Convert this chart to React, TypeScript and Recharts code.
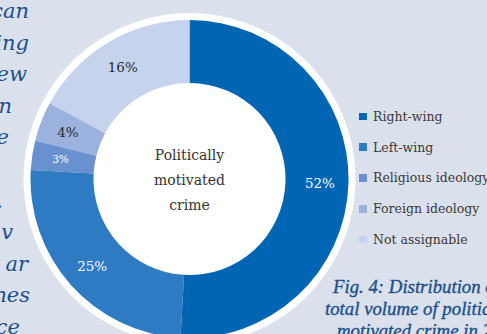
import React from 'react';
import { PieChart, Pie, Cell, Legend } from 'recharts';

const categories = ['Right-wing', 'Left-wing', 'Religious ideology', 'Foreign ideology', 'Not assignable'];
const shares = [50.9, 25, 3, 4, 17.1];
const shareLabels = ['52%', '25%', '3%', '4%', '16%'];
const centerLines = ['Politically', 'motivated', 'crime'];
const sideLines = ['can', 'ing', 'iew', 'n', 'e', '', '.', 'v', 'ar', 'mes', 'ce'];
const captionLines = ['Fig. 4: Distribution of', 'total volume of politically', 'motivated crime in 2023'];

const colors = ['#0066b3', '#2e7bc4', '#6a91cf', '#9bb2de', '#c6d3ec'];
const labelColors = ['#ffffff', '#ffffff', '#ffffff', '#2a2a2a', '#2a2a2a'];
const labelSizes = [13.5, 13.5, 10.5, 13.5, 13.5];
const sideRight = [29, 29, 27, 12, 9, 0, 3, 13, 28, 30, 20];
const captionX = [333, 325, 337];

const data = categories.map((name, i) => ({ name, value: shares[i] }));
const single = [{ name: 'disc', value: 1 }];

const CX = 189.5;
const CY = 179;
const RAD = Math.PI / 180;
const BG = '#dae0ec';
const SERIF = '"DejaVu Serif", serif';
const ITALIC = '"Liberation Serif", serif';
const SIDE = '"DejaVu Serif", serif';
const TEXT_BLUE = '#1b4f8a';

const renderShare = (p: any) => {
  const { cx, cy, midAngle, innerRadius, outerRadius, index } = p;
  const r = (innerRadius + outerRadius) / 2 + 3;
  const x = cx + r * Math.cos(-midAngle * RAD);
  const y = cy + r * Math.sin(-midAngle * RAD);
  return (
    <text x={x} y={y} fill={labelColors[index]} fontSize={labelSizes[index]} fontFamily={SERIF}
      textAnchor="middle" dominantBaseline="central">
      {shareLabels[index]}
    </text>
  );
};

const renderLegend = () => (
  <div style={{ fontFamily: SERIF, fontSize: 12.5, color: '#3a3a3a' }}>
    {categories.map((c, i) => (
      <div key={c} style={{ height: 30.8, display: 'flex', alignItems: 'center', whiteSpace: 'nowrap' }}>
        <span style={{ display: 'inline-block', width: 7.5, height: 7.5, background: colors[i], marginRight: 6.5 }} />
        <span>{c}</span>
      </div>
    ))}
  </div>
);

export default function App() {
  return (
    <div style={{ position: 'absolute', left: 0, top: 0, width: 487, height: 334, background: BG, overflow: 'hidden' }}>
      <svg width={487} height={334} style={{ position: 'absolute', left: 0, top: 0 }}>
        {sideLines.map((t, i) => (
          <text key={i} x={sideRight[i]} y={18 + i * 31.6} textAnchor="end" fontFamily={SIDE}
            fontStyle="italic" fontSize={21} fill={TEXT_BLUE}>{t}</text>
        ))}
        {captionLines.map((t, i) => (
          <text key={'c' + i} x={captionX[i]} y={293 + i * 22} fontFamily={ITALIC}
            fontStyle="italic" fontSize={18.8} fill={TEXT_BLUE} stroke={TEXT_BLUE} strokeWidth={0.35}>{t}</text>
        ))}
      </svg>
      <div style={{ position: 'absolute', left: 0, top: 0 }}>
        <PieChart width={487} height={334} margin={{ top: 0, right: 0, bottom: 0, left: 0 }}>
          <Pie data={single} dataKey="value" cx={CX} cy={CY} innerRadius={150} outerRadius={166}
            fill="#ffffff" stroke="none" isAnimationActive={false} legendType="none" />
          <Pie data={single} dataKey="value" cx={CX} cy={CY} innerRadius={0} outerRadius={100}
            fill="#ffffff" stroke="none" isAnimationActive={false} legendType="none" />
          <Pie data={data} dataKey="value" nameKey="name" cx={CX} cy={CY} innerRadius={96} outerRadius={159}
            startAngle={90} endAngle={-270} stroke="none" isAnimationActive={false}
            label={renderShare} labelLine={false}>
            {data.map((d, i) => (
              <Cell key={d.name} fill={colors[i]} />
            ))}
          </Pie>
          <Legend content={renderLegend} layout="vertical"
            wrapperStyle={{ position: 'absolute', left: 359, top: 101, width: 140 }} />
        </PieChart>
      </div>
      <svg width={487} height={334} style={{ position: 'absolute', left: 0, top: 0, pointerEvents: 'none' }}>
        <text x={CX} y={CY} textAnchor="middle" fill="#333" fontFamily={SERIF} fontSize={14} dominantBaseline="central">
          {centerLines.map((l, i) => (
            <tspan key={i} x={CX} y={CY + 1 + (i - 1) * 25}>{l}</tspan>
          ))}
        </text>
      </svg>
    </div>
  );
}
